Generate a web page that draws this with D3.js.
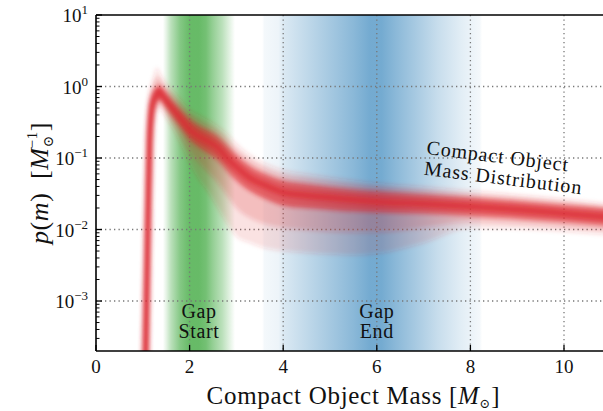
<!DOCTYPE html>
<html>
<head>
<meta charset="utf-8">
<script src="https://cdn.jsdelivr.net/npm/d3@7"></script>
<style>
  body { margin: 0; background: #fff; }
  text { font-family: "Liberation Serif", "DejaVu Serif", serif; fill: #111; }
</style>
</head>
<body>
<div id="chart"></div>
<script>
// mass grid (solar masses) for the posterior bands of p(m)
var massGrid = [0.95, 1.0, 1.03, 1.06, 1.09, 1.12, 1.15, 1.19, 1.24, 1.3, 1.36, 1.45, 1.6, 1.8, 2.0,
                2.2, 2.4, 2.6, 2.8, 3.0, 3.3, 3.6, 4.0, 4.5, 5.0, 5.5, 6.0, 7.0, 8.0, 9.0, 10.0, 11.0];
var pLow95 = [1e-9, 1e-9, 1e-8, 1e-7, 2e-6, 5e-5, 2e-3, 0.05, 0.25, 0.45, 0.48, 0.4, 0.28, 0.16, 0.085,
              0.05, 0.033, 0.02, 0.012, 0.008, 0.0065, 0.0055, 0.005, 0.0047, 0.0045, 0.0044, 0.0046,
              0.0065, 0.0105, 0.0102, 0.0093, 0.0083];
var pLow80 = [3e-9, 3e-9, 3e-8, 5e-7, 8e-6, 2e-4, 5e-3, 0.08, 0.33, 0.52, 0.56, 0.47, 0.33, 0.21, 0.125,
              0.085, 0.062, 0.045, 0.03, 0.02, 0.0145, 0.012, 0.0105, 0.0098, 0.0092, 0.009, 0.009,
              0.0105, 0.0128, 0.012, 0.0108, 0.0096];
var pLow50 = [1e-8, 1e-8, 1e-7, 3e-6, 3e-5, 5e-4, 0.01, 0.12, 0.42, 0.6, 0.65, 0.55, 0.4, 0.27, 0.18,
              0.14, 0.115, 0.093, 0.066, 0.048, 0.034, 0.027, 0.0215, 0.0198, 0.0188, 0.0178, 0.0173,
              0.0166, 0.0155, 0.0142, 0.0127, 0.0112];
var pMedian = [1e-6, 1e-6, 1e-5, 1.2e-4, 1.5e-3, 0.02, 0.18, 0.45, 0.65, 0.8, 0.85, 0.7, 0.52, 0.36, 0.25,
               0.2, 0.17, 0.14, 0.1, 0.075, 0.052, 0.042, 0.033, 0.03, 0.028, 0.026, 0.0245,
               0.023, 0.021, 0.019, 0.0168, 0.0148];
var pHigh50 = [1e-5, 2e-4, 3e-3, 0.03, 0.2, 0.45, 0.62, 0.75, 0.9, 1.0, 1.05, 0.9, 0.68, 0.48, 0.35,
               0.28, 0.24, 0.2, 0.15, 0.11, 0.076, 0.06, 0.048, 0.043, 0.039, 0.036, 0.034,
               0.031, 0.028, 0.025, 0.022, 0.0195];
var pHigh80 = [3e-5, 6e-4, 8e-3, 0.07, 0.32, 0.6, 0.78, 0.95, 1.15, 1.35, 1.3, 1.06, 0.8, 0.57, 0.41,
               0.33, 0.28, 0.235, 0.18, 0.13, 0.092, 0.072, 0.057, 0.051, 0.046, 0.042, 0.039,
               0.035, 0.031, 0.028, 0.0245, 0.021];
var pHigh95 = [1e-4, 2e-3, 0.02, 0.15, 0.5, 0.75, 0.95, 1.15, 1.45, 1.85, 1.6, 1.25, 0.95, 0.68, 0.48,
               0.4, 0.34, 0.28, 0.22, 0.16, 0.11, 0.085, 0.068, 0.06, 0.054, 0.049, 0.045,
               0.04, 0.035, 0.031, 0.027, 0.023];

// shading of the gap start / gap end posteriors
var gapStartMass  = [1.43, 1.5, 1.6, 1.8, 2.0, 2.2, 2.35, 2.5, 2.7, 2.85, 2.97];
var gapStartShade = [0, 0.12, 0.32, 0.58, 0.72, 0.72, 0.66, 0.5, 0.32, 0.14, 0];
var gapEndMass  = [3.55, 3.6, 3.9, 4.0, 4.5, 5.0, 5.5, 5.85, 6.1, 6.4, 6.8, 7.3, 7.8, 8.2, 8.25];
var gapEndShade = [0, 0.05, 0.08, 0.16, 0.28, 0.4, 0.52, 0.62, 0.62, 0.52, 0.4, 0.25, 0.13, 0.05, 0];

var xTicks = [0, 2, 4, 6, 8, 10];
var yTicks = [1e1, 1e0, 1e-1, 1e-2, 1e-3];
var yTickExp = ["1", "0", "\u22121", "\u22122", "\u22123"];

var W = 603, H = 411;
var margin = {top: 15, left: 96, bottom: 60};

var x = d3.scaleLinear().domain([0, 11]).range([margin.left, margin.left + 11 * 46.8]);
var y = d3.scaleLog().domain([2e-4, 10]).range([H - margin.bottom, margin.top]);

var svg = d3.select("#chart").append("svg")
    .attr("width", W)
    .attr("height", H);

var defs = svg.append("defs");
defs.append("clipPath").attr("id", "plotClip")
  .append("rect")
    .attr("x", x(0)).attr("y", y(10))
    .attr("width", x(11) - x(0)).attr("height", y(2e-4) - y(10));

var blur = defs.append("filter").attr("id", "soft")
    .attr("filterUnits", "userSpaceOnUse")
    .attr("x", 0).attr("y", -50).attr("width", W + 50).attr("height", H + 400);
blur.append("feGaussianBlur").attr("stdDeviation", 2.2);

function addGradient(id, mass, shade, color) {
  var g = defs.append("linearGradient").attr("id", id)
      .attr("gradientUnits", "userSpaceOnUse")
      .attr("x1", x(mass[0])).attr("x2", x(mass[mass.length - 1]))
      .attr("y1", 0).attr("y2", 0);
  var lo = mass[0], hi = mass[mass.length - 1];
  mass.forEach(function(m, i) {
    g.append("stop")
      .attr("offset", (m - lo) / (hi - lo))
      .attr("stop-color", color)
      .attr("stop-opacity", shade[i]);
  });
}
addGradient("gapStart", gapStartMass, gapStartShade, "#2ca02c");
addGradient("gapEnd", gapEndMass, gapEndShade, "#1f77b4");

var plot = svg.append("g").attr("clip-path", "url(#plotClip)");

// gap bands
plot.append("rect")
    .attr("x", x(gapStartMass[0])).attr("y", y(10))
    .attr("width", x(gapStartMass[gapStartMass.length - 1]) - x(gapStartMass[0]))
    .attr("height", y(2e-4) - y(10))
    .attr("fill", "url(#gapStart)");
plot.append("rect")
    .attr("x", x(gapEndMass[0])).attr("y", y(10))
    .attr("width", x(gapEndMass[gapEndMass.length - 1]) - x(gapEndMass[0]))
    .attr("height", y(2e-4) - y(10))
    .attr("fill", "url(#gapEnd)");

// grid
plot.selectAll(".vgrid").data(xTicks.slice(1))
  .enter().append("line")
    .attr("x1", function(d) { return x(d); }).attr("x2", function(d) { return x(d); })
    .attr("y1", y(10)).attr("y2", y(2e-4))
    .attr("stroke", "#777").attr("stroke-width", 1.3).attr("stroke-dasharray", "1.3,3.2");
plot.selectAll(".hgrid").data(yTicks.slice(1))
  .enter().append("line")
    .attr("x1", x(0)).attr("x2", x(11))
    .attr("y1", function(d) { return y(d); }).attr("y2", function(d) { return y(d); })
    .attr("stroke", "#777").attr("stroke-width", 1.3).attr("stroke-dasharray", "1.3,3.2");

// mass distribution band
var rows = massGrid.map(function(m, i) {
  return {m: m, lo95: pLow95[i], lo80: pLow80[i], lo50: pLow50[i], med: pMedian[i],
          hi50: pHigh50[i], hi80: pHigh80[i], hi95: pHigh95[i]};
});
var band = plot.append("g").attr("filter", "url(#soft)");
var red = "#dc2a30";

function bandArea(lo, hi) {
  return d3.area().curve(d3.curveMonotoneX)
    .x(function(d) { return x(d.m); })
    .y0(function(d) { return y(d[lo]); })
    .y1(function(d) { return y(d[hi]); });
}
band.append("path").datum(rows).attr("d", bandArea("lo95", "hi95"))
    .attr("fill", red).attr("opacity", 0.14);
band.append("path").datum(rows).attr("d", bandArea("lo80", "hi80"))
    .attr("fill", red).attr("opacity", 0.2);
band.append("path").datum(rows).attr("d", bandArea("lo50", "hi50"))
    .attr("fill", red).attr("opacity", 0.62);
band.append("path").datum(rows)
    .attr("d", d3.line().curve(d3.curveMonotoneX)
      .x(function(d) { return x(d.m); })
      .y(function(d) { return y(d.med); }))
    .attr("fill", "none").attr("stroke", red).attr("stroke-width", 7).attr("opacity", 0.7);

// band labels
function twoLines(cx, lines, y0) {
  var t = svg.append("text")
      .attr("text-anchor", "middle")
      .attr("font-size", 20)
      .attr("letter-spacing", 0.6);
  lines.forEach(function(s, i) {
    t.append("tspan").attr("x", cx).attr("y", y0 + i * 20).text(s);
  });
}
twoLines(x(2.2), ["Gap", "Start"], 318);
twoLines(x(6.0), ["Gap", "End"], 318);

var dist = svg.append("text")
    .attr("font-size", 20)
    .attr("letter-spacing", 0.9)
    .attr("transform", "translate(426,154) rotate(7)");
dist.append("tspan").attr("x", 0).attr("y", 0).text("Compact Object");
dist.append("tspan").attr("x", 0).attr("y", 21).text("Mass Distribution");

// axes frame
svg.append("line").attr("x1", x(0)).attr("x2", x(11)).attr("y1", y(10)).attr("y2", y(10))
    .attr("stroke", "#000").attr("stroke-width", 1.6);
svg.append("line").attr("x1", x(0)).attr("x2", x(11)).attr("y1", y(2e-4)).attr("y2", y(2e-4))
    .attr("stroke", "#000").attr("stroke-width", 1.6);
svg.append("line").attr("x1", x(0)).attr("x2", x(0)).attr("y1", y(10)).attr("y2", y(2e-4))
    .attr("stroke", "#000").attr("stroke-width", 1.6);

// x ticks (inside)
var xt = svg.selectAll(".xt").data(xTicks).enter().append("g");
xt.append("line")
    .attr("x1", function(d) { return x(d); }).attr("x2", function(d) { return x(d); })
    .attr("y1", y(2e-4)).attr("y2", y(2e-4) - 6)
    .attr("stroke", "#000").attr("stroke-width", 1.3);
xt.append("text")
    .attr("x", function(d) { return x(d); })
    .attr("y", 373)
    .attr("text-anchor", "middle")
    .attr("font-size", 19)
    .text(function(d) { return d; });

// y ticks: major and minor, inside
var minor = [];
for (var e = -4; e < 1; e++) {
  for (var k = 2; k < 10; k++) {
    var v = k * Math.pow(10, e);
    if (v > 2e-4 && v < 10) minor.push(v);
  }
}
svg.selectAll(".ymin").data(minor).enter().append("line")
    .attr("x1", x(0)).attr("x2", x(0) + 3.5)
    .attr("y1", function(d) { return y(d); }).attr("y2", function(d) { return y(d); })
    .attr("stroke", "#000").attr("stroke-width", 1);
svg.selectAll(".ymaj").data(yTicks).enter().append("line")
    .attr("x1", x(0)).attr("x2", x(0) + 6)
    .attr("y1", function(d) { return y(d); }).attr("y2", function(d) { return y(d); })
    .attr("stroke", "#000").attr("stroke-width", 1.3);
var yl = svg.selectAll(".ylab").data(yTicks).enter().append("text")
    .attr("x", 88)
    .attr("y", function(d) { return y(d) + 7; })
    .attr("text-anchor", "end")
    .attr("font-size", 19);
yl.append("tspan").text("10");
yl.append("tspan").attr("dy", -8).attr("font-size", 13)
    .text(function(d, i) { return yTickExp[i]; });

// axis titles
var xlab = svg.append("text")
    .attr("x", (x(0) + x(11)) / 2)
    .attr("y", 404)
    .attr("text-anchor", "middle")
    .attr("font-size", 25)
    .attr("letter-spacing", 0.7);
xlab.append("tspan").text("Compact Object Mass [");
xlab.append("tspan").attr("font-style", "italic").text("M");
xlab.append("tspan").attr("font-size", 13).attr("dy", 4).text("\u2299");
xlab.append("tspan").attr("dy", -4).text("]");

var ylab = svg.append("text")
    .attr("transform", "translate(48,183) rotate(-90)")
    .attr("text-anchor", "middle")
    .attr("font-size", 26)
    .attr("letter-spacing", 0.6);
ylab.append("tspan").attr("font-style", "italic").text("p");
ylab.append("tspan").text("(");
ylab.append("tspan").attr("font-style", "italic").text("m");
ylab.append("tspan").text(")\u2002[");
ylab.append("tspan").attr("font-style", "italic").text("M");
var sub = ylab.append("tspan").attr("font-size", 14).attr("dy", 5).text("\u2299");
var sup = ylab.append("tspan").attr("font-size", 15).attr("dy", -16).text("\u22121");
sup.attr("dx", -sub.node().getComputedTextLength() - 1);
ylab.append("tspan").attr("dy", 11).text("]");
</script>
</body>
</html>
